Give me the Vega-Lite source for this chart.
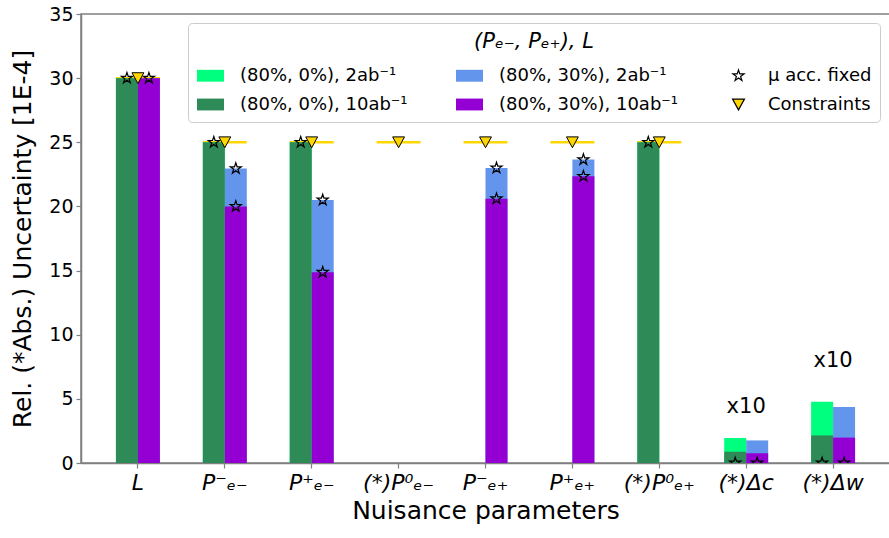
{
  "$schema": "https://vega.github.io/schema/vega-lite/v6.json",
  "width": 809,
  "height": 449,
  "autosize": {"type": "none"},
  "padding": {"left": 81, "top": 14, "right": 0, "bottom": 75},
  "background": "white",
  "config": {
    "font": "DejaVu Sans",
    "view": {"stroke": "#808080", "strokeWidth": 1.5},
    "axis": {
      "grid": false,
      "domainColor": "#808080",
      "domainWidth": 1.5,
      "tickColor": "#808080",
      "tickWidth": 1.2,
      "tickSize": 5,
      "labelColor": "black",
      "titleColor": "black",
      "labelFont": "DejaVu Sans",
      "titleFont": "DejaVu Sans",
      "titleFontWeight": "normal"
    }
  },
  "datasets": {
    "bars": [
      {"param": "L", "grp": "A", "lumi": "2", "series": "(80%, 0%), 2ab⁻¹", "value": 30},
      {"param": "L", "grp": "A", "lumi": "10", "series": "(80%, 0%), 10ab⁻¹", "value": 30},
      {"param": "L", "grp": "B", "lumi": "2", "series": "(80%, 30%), 2ab⁻¹", "value": 30},
      {"param": "L", "grp": "B", "lumi": "10", "series": "(80%, 30%), 10ab⁻¹", "value": 30},
      {"param": "P⁻ₑ₋", "grp": "A", "lumi": "2", "series": "(80%, 0%), 2ab⁻¹", "value": 25},
      {"param": "P⁻ₑ₋", "grp": "A", "lumi": "10", "series": "(80%, 0%), 10ab⁻¹", "value": 25},
      {"param": "P⁻ₑ₋", "grp": "B", "lumi": "2", "series": "(80%, 30%), 2ab⁻¹", "value": 22.95},
      {"param": "P⁻ₑ₋", "grp": "B", "lumi": "10", "series": "(80%, 30%), 10ab⁻¹", "value": 20.0},
      {"param": "P⁺ₑ₋", "grp": "A", "lumi": "2", "series": "(80%, 0%), 2ab⁻¹", "value": 25},
      {"param": "P⁺ₑ₋", "grp": "A", "lumi": "10", "series": "(80%, 0%), 10ab⁻¹", "value": 25},
      {"param": "P⁺ₑ₋", "grp": "B", "lumi": "2", "series": "(80%, 30%), 2ab⁻¹", "value": 20.5},
      {"param": "P⁺ₑ₋", "grp": "B", "lumi": "10", "series": "(80%, 30%), 10ab⁻¹", "value": 14.87},
      {"param": "P⁻ₑ₊", "grp": "B", "lumi": "2", "series": "(80%, 30%), 2ab⁻¹", "value": 23.0},
      {"param": "P⁻ₑ₊", "grp": "B", "lumi": "10", "series": "(80%, 30%), 10ab⁻¹", "value": 20.6},
      {"param": "P⁺ₑ₊", "grp": "B", "lumi": "2", "series": "(80%, 30%), 2ab⁻¹", "value": 23.65},
      {"param": "P⁺ₑ₊", "grp": "B", "lumi": "10", "series": "(80%, 30%), 10ab⁻¹", "value": 22.35},
      {"param": "(*)P⁰ₑ₊", "grp": "A", "lumi": "2", "series": "(80%, 0%), 2ab⁻¹", "value": 25},
      {"param": "(*)P⁰ₑ₊", "grp": "A", "lumi": "10", "series": "(80%, 0%), 10ab⁻¹", "value": 25},
      {"param": "(*)Δc", "grp": "A", "lumi": "2", "series": "(80%, 0%), 2ab⁻¹", "value": 1.95},
      {"param": "(*)Δc", "grp": "A", "lumi": "10", "series": "(80%, 0%), 10ab⁻¹", "value": 0.88},
      {"param": "(*)Δc", "grp": "B", "lumi": "2", "series": "(80%, 30%), 2ab⁻¹", "value": 1.76},
      {"param": "(*)Δc", "grp": "B", "lumi": "10", "series": "(80%, 30%), 10ab⁻¹", "value": 0.76},
      {"param": "(*)Δw", "grp": "A", "lumi": "2", "series": "(80%, 0%), 2ab⁻¹", "value": 4.78},
      {"param": "(*)Δw", "grp": "A", "lumi": "10", "series": "(80%, 0%), 10ab⁻¹", "value": 2.15},
      {"param": "(*)Δw", "grp": "B", "lumi": "2", "series": "(80%, 30%), 2ab⁻¹", "value": 4.37},
      {"param": "(*)Δw", "grp": "B", "lumi": "10", "series": "(80%, 30%), 10ab⁻¹", "value": 1.98}
    ],
    "stars": [
      {"param": "L", "grp": "A", "value": 30},
      {"param": "L", "grp": "B", "value": 30},
      {"param": "P⁻ₑ₋", "grp": "A", "value": 25},
      {"param": "P⁻ₑ₋", "grp": "B", "value": 22.95},
      {"param": "P⁻ₑ₋", "grp": "B", "value": 20.0},
      {"param": "P⁺ₑ₋", "grp": "A", "value": 25},
      {"param": "P⁺ₑ₋", "grp": "B", "value": 20.5},
      {"param": "P⁺ₑ₋", "grp": "B", "value": 14.87},
      {"param": "P⁻ₑ₊", "grp": "B", "value": 23.0},
      {"param": "P⁻ₑ₊", "grp": "B", "value": 20.6},
      {"param": "P⁺ₑ₊", "grp": "B", "value": 23.65},
      {"param": "P⁺ₑ₊", "grp": "B", "value": 22.35},
      {"param": "(*)P⁰ₑ₊", "grp": "A", "value": 25},
      {"param": "(*)Δc", "grp": "A", "value": 0},
      {"param": "(*)Δc", "grp": "B", "value": 0},
      {"param": "(*)Δw", "grp": "A", "value": 0},
      {"param": "(*)Δw", "grp": "B", "value": 0}
    ],
    "constraints": [
      {"param": "L", "value": 30},
      {"param": "P⁻ₑ₋", "value": 25},
      {"param": "P⁺ₑ₋", "value": 25},
      {"param": "(*)P⁰ₑ₋", "value": 25},
      {"param": "P⁻ₑ₊", "value": 25},
      {"param": "P⁺ₑ₊", "value": 25},
      {"param": "(*)P⁰ₑ₊", "value": 25}
    ],
    "notes": [
      {"param": "(*)Δc", "value": 4.39, "label": "x10"},
      {"param": "(*)Δw", "value": 7.97, "label": "x10"}
    ]
  },
  "encoding": {
    "x": {
      "field": "param",
      "type": "nominal",
      "scale": {
        "type": "band",
        "domain": ["L", "P⁻ₑ₋", "P⁺ₑ₋", "(*)P⁰ₑ₋", "P⁻ₑ₊", "P⁺ₑ₊", "(*)P⁰ₑ₊", "(*)Δc", "(*)Δw"],
        "paddingInner": 0.494,
        "paddingOuter": 0.402
      },
      "axis": {
        "title": "Nuisance parameters",
        "titleFontSize": 25,
        "titlePadding": 5,
        "labelFontSize": 22,
        "labelFontStyle": "italic",
        "labelAngle": 0,
        "labelPadding": 4
      }
    },
    "y": {
      "field": "value",
      "type": "quantitative",
      "scale": {"domain": [0, 35], "nice": false},
      "axis": {
        "title": "Rel. (*Abs.) Uncertainty [1E-4]",
        "titleFontSize": 25,
        "titlePadding": 13,
        "labelFontSize": 19,
        "labelPadding": 3,
        "values": [0, 5, 10, 15, 20, 25, 30, 35]
      }
    }
  },
  "layer": [
    {
      "data": {"name": "constraints"},
      "mark": {"type": "tick", "color": "#FFD700", "thickness": 2.5, "size": 44, "orient": "horizontal", "opacity": 1}
    },
    {
      "data": {"name": "bars"},
      "transform": [{"filter": "datum.lumi === '2'"}],
      "mark": {"type": "bar"},
      "encoding": {
        "xOffset": {"field": "grp", "type": "nominal", "scale": {"domain": ["A", "B"], "paddingInner": 0, "paddingOuter": 0}},
        "color": {
          "field": "series",
          "type": "nominal",
          "scale": {
            "domain": ["(80%, 0%), 2ab⁻¹", "(80%, 0%), 10ab⁻¹", "(80%, 30%), 2ab⁻¹", "(80%, 30%), 10ab⁻¹", "μ acc. fixed", "Constraints"],
            "range": ["#00FF7F", "#2E8B57", "#6495ED", "#9400D3", "transparent", "#FFD700"]
          },
          "legend": {
            "title": "(Pₑ₋, Pₑ₊), L",
            "titleFontStyle": "italic",
            "titleFontSize": 21,
            "titleFontWeight": "normal",
            "titleColor": "black",
            "titleAnchor": "middle",
            "titlePadding": 9,
            "orient": "none",
            "legendX": 107,
            "legendY": 9,
            "direction": "vertical",
            "columns": 3,
            "columnPadding": 45,
            "rowPadding": 5,
            "padding": 8,
            "labelOffset": 15,
            "labelFontSize": 18,
            "labelLimit": 0,
            "labelColor": "black",
            "labelFont": "DejaVu Sans",
            "symbolSize": 729,
            "symbolStrokeWidth": 1.2,
            "fillColor": "rgba(255,255,255,0.8)",
            "strokeColor": "#cccccc",
            "cornerRadius": 4,
            "encode": {
              "symbols": {
                "update": {
                  "shape": [
                    {"test": "datum.value === 'μ acc. fixed'", "value": "M0,-0.43L0.0964,-0.1327L0.409,-0.1329L0.156,0.0507L0.2527,0.3479L0,0.164L-0.2527,0.3479L-0.156,0.0507L-0.409,-0.1329L-0.0964,-0.1327Z"},
                    {"test": "datum.value === 'Constraints'", "value": "M-0.44,-0.4L0.44,-0.4L0,0.4Z"},
                    {"value": "M-1,-0.44H1V0.44H-1Z"}
                  ],
                  "stroke": [
                    {"test": "datum.value === 'μ acc. fixed' || datum.value === 'Constraints'", "value": "black"},
                    {"value": "transparent"}
                  ],
                  "strokeWidth": {"value": 1.2},
                  "opacity": {"value": 1}
                }
              }
            }
          }
        }
      }
    },
    {
      "data": {"name": "bars"},
      "transform": [{"filter": "datum.lumi === '10'"}],
      "mark": {"type": "bar"},
      "encoding": {
        "xOffset": {"field": "grp", "type": "nominal", "scale": {"domain": ["A", "B"], "paddingInner": 0, "paddingOuter": 0}},
        "color": {"field": "series", "type": "nominal"}
      }
    },
    {
      "data": {"name": "stars"},
      "mark": {
        "type": "point",
        "shape": "M0,-0.43L0.0964,-0.1327L0.409,-0.1329L0.156,0.0507L0.2527,0.3479L0,0.164L-0.2527,0.3479L-0.156,0.0507L-0.409,-0.1329L-0.0964,-0.1327Z",
        "size": 729,
        "filled": false,
        "stroke": "black",
        "strokeWidth": 1.2,
        "opacity": 1,
        "clip": true
      },
      "encoding": {
        "xOffset": {"field": "grp", "type": "nominal", "scale": {"domain": ["A", "B"], "paddingInner": 0, "paddingOuter": 0}}
      }
    },
    {
      "data": {"name": "constraints"},
      "mark": {
        "type": "point",
        "shape": "M-0.44,-0.4L0.44,-0.4L0,0.4Z",
        "size": 729,
        "filled": true,
        "fill": "#FFD700",
        "stroke": "black",
        "strokeWidth": 1,
        "opacity": 1
      }
    },
    {
      "data": {"name": "notes"},
      "mark": {"type": "text", "fontSize": 21, "font": "DejaVu Sans", "color": "black", "baseline": "middle", "align": "center"},
      "encoding": {"text": {"field": "label"}}
    }
  ]
}
